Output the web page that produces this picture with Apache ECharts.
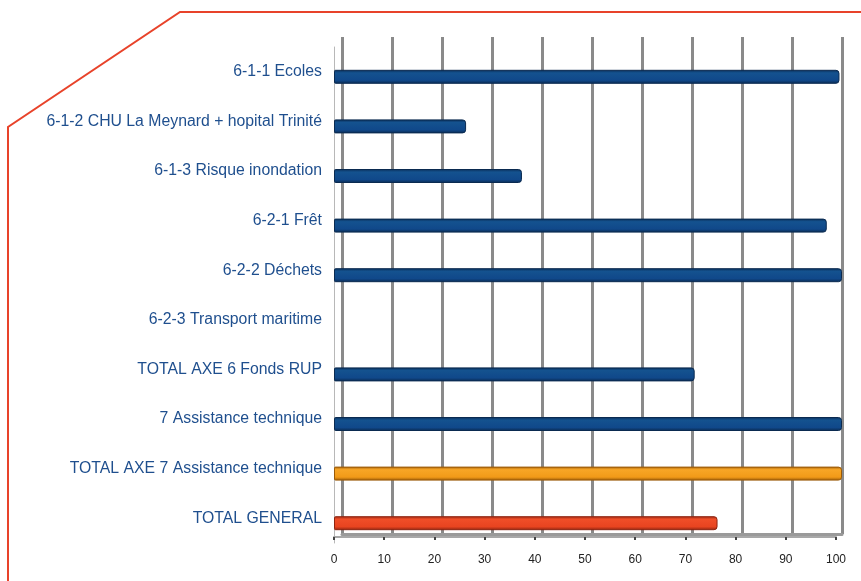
<!DOCTYPE html>
<html><head><meta charset="utf-8">
<script src="https://cdn.jsdelivr.net/npm/echarts@6/dist/echarts.min.js"></script>
<style>html,body{margin:0;padding:0;background:#fff;}#c{width:861px;height:581px;}</style>
</head><body><div id="c"></div>
<script>
const categories = ['6-1-1 Ecoles', '6-1-2 CHU La Meynard + hopital Trinité', '6-1-3 Risque inondation', '6-2-1 Frêt', '6-2-2 Déchets', '6-2-3 Transport maritime', 'TOTAL AXE 6 Fonds RUP', '7 Assistance technique', 'TOTAL AXE 7 Assistance technique', 'TOTAL GENERAL'];
const values = [99.5, 26, 37, 97, 100, 0, 71, 100, 100, 75.5];
const xTicks = [0, 10, 20, 30, 40, 50, 60, 70, 80, 90, 100];

const palette = {
  blue: ['#0a2c55', '#14528f', '#10488a', '#0a2a50'],
  orange: ['#a8640c', '#f8a626', '#f29a18', '#9a5a08'],
  red: ['#9a2a14', '#f04e28', '#e84420', '#8e2410']
};
const kindOf = i => (i === 8 ? 'orange' : (i === 9 ? 'red' : 'blue'));
function grad(c) {
  return new echarts.graphic.LinearGradient(0, 0, 0, 1, [
    {offset: 0, color: c[0]}, {offset: 0.22, color: c[1]},
    {offset: 0.75, color: c[2]}, {offset: 1, color: c[3]}
  ]);
}

const chart = echarts.init(document.getElementById('c'));
chart.setOption({
  backgroundColor: '#fff',
  animation: false,
  graphic: [{
    type: 'polyline', silent: true,
    shape: {points: [[8, 582], [8, 127], [180, 12], [862, 12]]},
    style: {stroke: '#e8432a', lineWidth: 2, fill: null}
  }],
  grid: [
    {left: 342, right: 19, top: 37, bottom: 47},
    {left: 334, right: 25, top: 47, bottom: 38},
    {left: 334, right: 19, top: 52, bottom: 33}
  ],
  xAxis: [
    {gridIndex: 0, type: 'value', min: 0, max: 100, interval: 10,
     axisLabel: {show: false}, axisTick: {show: false},
     axisLine: {show: true, lineStyle: {color: '#9a9a9a', width: 3}},
     splitLine: {show: true, lineStyle: {color: '#8a8a8a', width: 3}}},
    {gridIndex: 1, type: 'value', min: 0, max: 100, interval: 10, offset: -6,
     data: xTicks,
     axisLabel: {color: '#222', fontSize: 12, fontFamily: 'Liberation Sans, Arial, sans-serif', margin: 17},
     axisTick: {show: true, length: 3, lineStyle: {color: '#444', width: 2}},
     axisLine: {show: true, lineStyle: {color: '#a8a8a8', width: 2}},
     splitLine: {show: false}},
    {gridIndex: 2, type: 'value', min: 0, max: 100, show: false, splitLine: {show: false}}
  ],
  yAxis: [
    {gridIndex: 0, type: 'category', data: categories, inverse: true, show: false},
    {gridIndex: 1, type: 'category', data: categories, inverse: true,
     axisLabel: {color: '#1f4f8e', fontSize: 15.8, fontFamily: 'Liberation Sans, Arial, sans-serif', margin: 12},
     axisTick: {show: false},
     axisLine: {show: true, lineStyle: {color: '#b8b8b8', width: 1}},
     splitLine: {show: false}},
    {gridIndex: 2, type: 'category', data: categories, inverse: true, show: false}
  ],
  series: [{
    type: 'bar', xAxisIndex: 2, yAxisIndex: 2, barWidth: 14,
    data: values.map((v, i) => ({
      value: v,
      itemStyle: {
        color: grad(palette[kindOf(i)]),
        borderColor: palette[kindOf(i)][3],
        borderWidth: v === 0 ? 0 : 1,
        borderRadius: [1, 3, 3, 1]
      }
    }))
  }]
});
</script></body></html>
